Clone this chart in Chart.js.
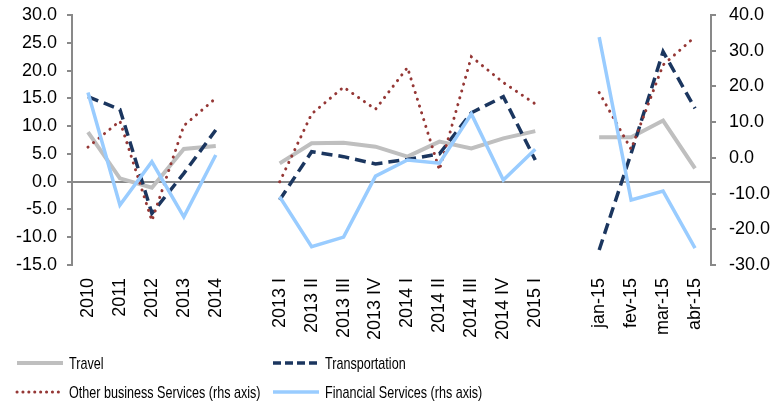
<!DOCTYPE html>
<html>
<head>
<meta charset="utf-8">
<script src="https://cdn.jsdelivr.net/npm/chart.js@4/dist/chart.umd.min.js"></script>
<style>
  html, body { margin: 0; padding: 0; background: #fff; }
  #wrap { width: 773px; height: 406px; position: relative; }
</style>
</head>
<body>
<div id="wrap"><canvas id="chart"></canvas></div>
<script>
// --- data ---
const categories = [
    '2010', '2011', '2012', '2013', '2014', '',
    '2013 I', '2013 II', '2013 III', '2013 IV', '2014 I', '2014 II', '2014 III', '2014 IV', '2015 I', '',
    'jan-15', 'fev-15', 'mar-15', 'abr-15'
];

// left axis
const travel = [8.9, 0.6, -1.1, 5.9, 6.4, null,
    3.3, 6.9, 7.0, 6.3, 4.5, 7.2, 6.0, 7.8, 9.1, null,
    8.0, 8.0, 11.0, 2.4];
const transportation = [15.3, 13.0, -5.7, 1.5, 9.3, null,
    -3.3, 5.4, 4.5, 3.2, 4.0, 5.0, 12.4, 15.3, 3.9, null,
    -12.3, 5.1, 23.4, 13.2];

// right axis
const otherBusiness = [3.0, 10.3, -17.6, 9.0, 16.7, null,
    -6.7, 12.3, 19.8, 13.6, 25.3, -3.4, 28.3, 21.1, 15.1, null,
    18.3, 2.4, 26.0, 33.9];
const financial = [18.3, -13.2, -1.1, -16.5, 0.8, null,
    -10.9, -24.9, -22.2, -5.1, -0.6, -1.5, 12.3, -6.2, 2.4, null,
    33.8, -11.8, -9.3, -25.3];

const leftTicks = { min: -15, max: 30, step: 5 };
const rightTicks = { min: -30, max: 40, step: 10 };

const AXIS_GREY = '#898989';
const FONT = "'Liberation Sans', Arial, sans-serif";

// --- legend drawn as a 2x2 grid under the plot ---
const gridLegend = {
    id: 'gridLegend',
    afterDraw(chart) {
        const ctx = chart.ctx;
        const cols = [17, 273];
        const rows = [363, 392];
        chart.data.datasets.forEach((ds, i) => {
            const x = cols[i % 2];
            const y = rows[Math.floor(i / 2)];
            ctx.save();
            ctx.strokeStyle = ds.borderColor;
            ctx.lineWidth = ds.borderWidth;
            ctx.lineCap = ds.borderCapStyle || 'butt';
            ctx.setLineDash(ds.legendDash || []);
            ctx.beginPath();
            ctx.moveTo(x, y);
            ctx.lineTo(x + 46, y);
            ctx.stroke();
            ctx.restore();

            // condensed label text
            ctx.save();
            ctx.translate(x + 52, y);
            ctx.scale(0.74, 1);
            ctx.fillStyle = '#000';
            ctx.font = '17px ' + FONT;
            ctx.textBaseline = 'middle';
            ctx.fillText(ds.label, 0, 1);
            ctx.restore();
        });
    }
};

function initChart() {
    const ctx = document.getElementById('chart').getContext('2d');
    new Chart(ctx, {
        type: 'line',
        data: {
            labels: categories,
            datasets: [{
                label: 'Travel',
                data: travel,
                yAxisID: 'y',
                borderColor: '#BFBFBF',
                borderWidth: 4,
                order: 4
            }, {
                label: 'Transportation',
                data: transportation,
                yAxisID: 'y',
                borderColor: '#1B365F',
                borderWidth: 3.5,
                borderDash: [11, 6],
                legendDash: [8, 4],
                order: 3
            }, {
                label: 'Other business Services (rhs axis)',
                data: otherBusiness,
                yAxisID: 'y1',
                borderColor: '#953735',
                borderWidth: 3,
                borderDash: [0.1, 7],
                borderCapStyle: 'round',
                legendDash: [0.1, 5.8],
                order: 2
            }, {
                label: 'Financial Services (rhs axis)',
                data: financial,
                yAxisID: 'y1',
                borderColor: '#99CCFF',
                borderWidth: 3.5,
                order: 1
            }]
        },
        options: {
            responsive: true,
            maintainAspectRatio: false,
            animation: false,
            spanGaps: false,
            elements: {
                point: { radius: 0, hoverRadius: 0 },
                line: { tension: 0, fill: false }
            },
            layout: { padding: { top: 15, left: 0, right: 0, bottom: 61 } },
            plugins: {
                legend: { display: false },
                tooltip: { enabled: false }
            },
            scales: {
                x: {
                    offset: true,
                    grid: { display: false, drawTicks: false },
                    border: { display: false },
                    ticks: {
                        autoSkip: false,
                        maxRotation: 90,
                        minRotation: 90,
                        padding: 13,
                        color: '#000',
                        font: { family: FONT, size: 18 }
                    },
                    afterFit: s => { s.height = 80; }
                },
                y: {
                    position: 'left',
                    min: leftTicks.min,
                    max: leftTicks.max,
                    border: { display: true, color: AXIS_GREY, width: 2 },
                    grid: {
                        color: c => c.tick && c.tick.value === 0 ? AXIS_GREY : 'rgba(0,0,0,0)',
                        lineWidth: 2,
                        tickColor: AXIS_GREY,
                        tickLength: 5
                    },
                    ticks: {
                        stepSize: leftTicks.step,
                        padding: 10,
                        color: '#000',
                        font: { family: FONT, size: 18 },
                        callback: v => v.toFixed(1)
                    },
                    afterFit: s => { s.width = 72; s.paddingTop = 0; s.paddingBottom = 0; }
                },
                y1: {
                    position: 'right',
                    min: rightTicks.min,
                    max: rightTicks.max,
                    border: { display: true, color: AXIS_GREY, width: 2 },
                    grid: {
                        drawOnChartArea: false,
                        color: AXIS_GREY,
                        lineWidth: 2,
                        tickLength: 5
                    },
                    ticks: {
                        stepSize: rightTicks.step,
                        padding: 13,
                        color: '#000',
                        font: { family: FONT, size: 18 },
                        callback: v => v.toFixed(1)
                    },
                    afterFit: s => { s.width = 62; s.paddingTop = 0; s.paddingBottom = 0; }
                }
            }
        },
        plugins: [gridLegend]
    });
}

document.addEventListener('DOMContentLoaded', initChart);
</script>
</body>
</html>
